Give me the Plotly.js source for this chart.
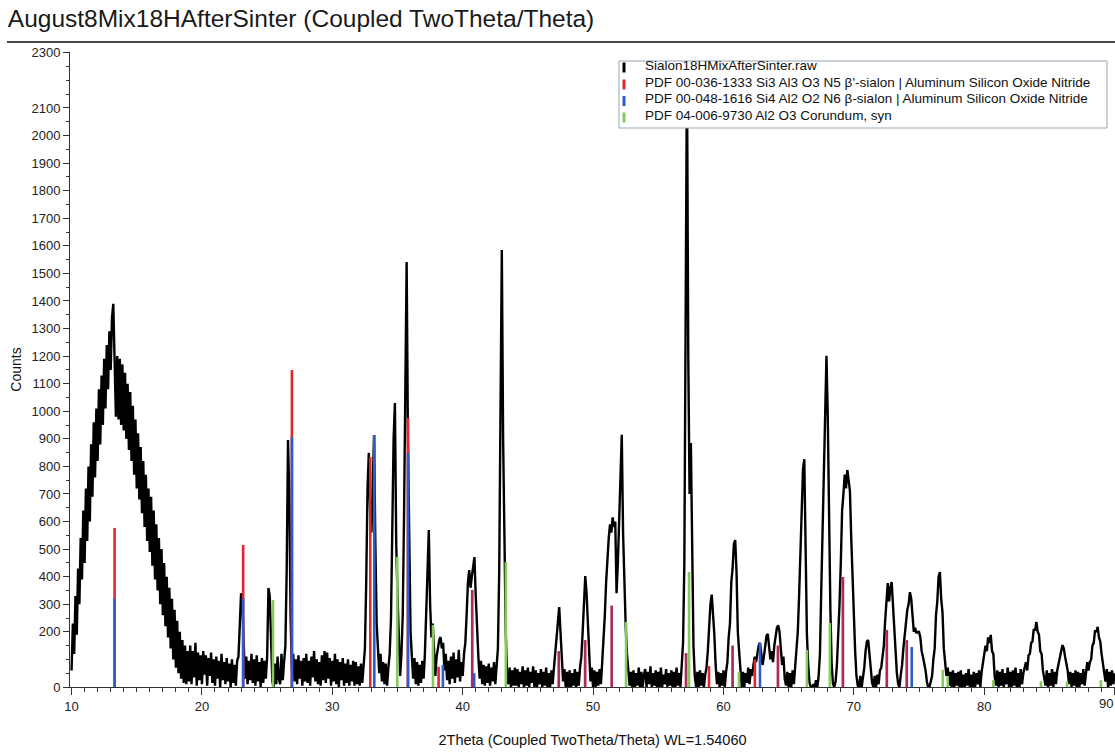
<!DOCTYPE html>
<html>
<head>
<meta charset="utf-8">
<script src="https://cdn.plot.ly/plotly-3.0.1.min.js"></script>
<style>
  html, body { margin: 0; padding: 0; background: #ffffff; }
  #chart { width: 1115px; height: 755px; }
</style>
</head>
<body>
<div id="chart"></div>
<script>
// ---------------- DATA ----------------
const chartTitle = 'August8Mix18HAfterSinter (Coupled TwoTheta/Theta)';
const xTitle = '2Theta (Coupled TwoTheta/Theta) WL=1.54060';
const yTitle = 'Counts';

const seriesNames = [
  'Sialon18HMixAfterSinter.raw',
  "PDF 00-036-1333 Si3 Al3 O3 N5 β'-sialon | Aluminum Silicon Oxide Nitride",
  'PDF 00-048-1616 Si4 Al2 O2 N6 β-sialon | Aluminum Silicon Oxide Nitride',
  'PDF 04-006-9730 Al2 O3 Corundum, syn'
];

// measured scan: 2theta from scanStart in steps of scanStep
const scanStart = 10.0;
const scanStep = 0.1;
const counts = [
  60,230,120,330,190,430,300,540,390,640,       // 10
  450,720,530,800,600,880,690,960,760,1010,     // 11
  820,1080,880,1130,950,1190,1010,1240,1080,1290, // 12
  1150,1340,1390,1120,980,1200,970,1190,950,1170, // 13
  930,1140,900,1100,860,1070,820,1020,770,970,  // 14
  720,920,680,870,630,820,580,770,530,720,      // 15
  490,690,440,640,390,590,350,540,300,500,      // 16
  260,450,220,400,180,360,140,320,100,280,      // 17
  70,240,50,200,30,170,15,150,10,130,           // 18
  20,150,10,130,35,160,5,125,25,115,            // 19
  10,130,45,115,5,105,40,125,15,100,            // 20
  5,110,30,95,0,120,25,90,10,105,               // 21
  20,85,0,100,15,80,5,95,110,220,               // 22
  340,300,150,30,110,10,95,25,120,15,           // 23
  100,5,115,20,90,0,105,15,95,30,               // 24
  110,359,330,160,20,0,85,10,110,30,            // 25
  10,120,25,90,150,420,896,700,250,60,          // 26
  120,20,100,10,115,30,95,5,105,20,             // 27
  120,15,95,5,110,35,130,20,100,10,             // 28
  90,5,115,25,130,15,125,30,105,5,              // 29
  95,20,120,10,100,0,90,25,105,5,               // 30
  85,15,100,5,80,20,95,5,90,10,                 // 31
  75,5,85,15,90,140,380,720,849,640,            // 32
  560,800,914,520,230,140,50,120,20,90,         // 33
  10,85,5,70,120,250,560,900,1030,520,          // 34
  330,130,40,120,260,620,1150,1541,900,420,     // 35
  200,110,30,105,10,90,5,80,15,95,              // 36
  30,120,260,480,569,300,180,230,110,40,        // 37
  110,150,170,181,140,160,60,120,25,95,         // 38
  10,110,30,125,15,100,35,135,20,90,            // 39
  40,120,160,260,380,424,360,400,440,471,       // 40
  330,200,110,30,95,10,80,5,75,15,              // 41
  85,5,70,20,90,10,75,140,420,1050,             // 42
  1585,900,430,200,50,10,70,0,60,5,             // 43
  70,5,65,0,55,10,75,0,60,5,                    // 44
  70,0,55,15,75,0,60,0,50,10,                   // 45
  65,0,55,5,70,0,50,0,60,10,                    // 46
  70,130,180,240,290,200,110,20,65,0,           // 47
  55,0,60,0,50,5,65,0,55,5,                     // 48
  70,110,200,330,402,340,210,110,20,70,         // 49
  0,60,0,55,5,65,10,90,160,260,                 // 50
  380,470,540,590,560,615,580,600,340,450,      // 51
  620,800,915,560,330,220,120,40,5,55,          // 52
  0,60,0,50,5,70,0,55,0,45,                     // 53
  65,0,55,10,75,0,50,5,60,0,                    // 54
  55,0,70,0,45,10,65,0,50,5,                    // 55
  60,0,55,0,70,5,50,0,75,160,                   // 56
  450,1500,2260,1200,700,885,420,150,40,0,      // 57
  55,0,60,5,50,0,45,70,130,220,                 // 58
  300,335,270,190,80,10,55,0,50,5,              // 59
  60,0,55,90,180,230,380,430,520,533,           // 60
  420,200,130,40,0,55,0,50,15,70,               // 61
  10,65,40,80,110,90,130,150,160,120,           // 62
  80,110,150,185,193,140,100,130,90,150,        // 63
  190,215,224,200,140,80,110,30,5,55,           // 64
  0,50,0,60,10,70,120,200,330,500,              // 65
  690,790,826,520,190,80,15,0,0,10,             // 66
  0,25,0,40,120,350,560,780,1000,1201,          // 67
  980,600,280,80,10,0,20,80,180,300,            // 68
  450,640,700,770,720,787,750,710,540,390,      // 69
  240,130,40,5,0,40,0,30,70,130,                // 70
  165,170,120,60,15,0,40,0,45,10,               // 71
  60,70,110,150,240,310,377,310,360,381,        // 72
  300,200,120,50,10,0,45,80,140,190,            // 73
  221,280,300,344,320,270,200,215,195,200,      // 74
  200,180,130,110,88,60,20,0,0,20,              // 75
  40,100,140,260,310,400,417,320,270,140,       // 76
  80,40,70,5,55,0,60,0,50,5,                    // 77
  55,0,60,0,45,0,50,5,65,0,                     // 78
  45,0,55,0,50,10,60,0,55,90,                   // 79
  110,150,130,180,160,189,130,120,40,5,         // 80
  60,0,55,5,65,0,50,10,70,0,                    // 81
  55,0,60,5,70,0,50,0,65,10,                    // 82
  50,75,90,60,115,120,160,165,210,205,          // 83
  236,200,190,130,120,60,30,5,60,0,             // 84
  50,5,65,0,55,10,60,80,110,130,                // 85
  152,140,110,80,60,10,55,0,50,5,               // 86
  60,0,55,0,50,10,65,5,55,90,                   // 87
  60,90,100,150,160,205,200,218,180,165,        // 88
  120,90,60,20,65,0,55,5,60,10,                 // 89
  50                                            // 90
];

// reference patterns (stick positions in 2theta, stick heights in counts)
const redPos   = [13.3, 23.16, 26.9, 32.91, 35.8, 38.15, 40.73, 47.37, 49.39, 51.43, 57.13, 58.89, 60.7, 62.41, 64.18, 69.16, 72.53, 74.06];
const redInt   = [577, 515, 1150, 834, 976, 73, 352, 130, 170, 295, 123, 76, 150, 100, 150, 399, 207, 170];
const bluePos  = [13.3, 23.16, 26.9, 33.22, 35.8, 38.48, 40.73, 40.88, 47.37, 49.39, 51.43, 57.13, 60.7, 62.8, 64.18, 69.16, 72.53, 74.06, 74.44];
const blueInt  = [322, 322, 907, 914, 849, 80, 352, 50, 130, 170, 295, 123, 150, 160, 150, 399, 207, 170, 145];
const greenPos = [25.45, 34.98, 37.72, 43.31, 52.53, 57.36, 61.19, 66.4, 68.16, 76.82, 77.2, 80.7, 84.35, 86.35, 88.95];
const greenInt = [316, 472, 225, 453, 236, 417, 55, 134, 232, 62, 40, 25, 20, 20, 25];

const xTicks = [10, 20, 30, 40, 50, 60, 70, 80, 90];
const yTicks = [0, 200, 300, 400, 500, 600, 700, 800, 900, 1000, 1100, 1200, 1300, 1400, 1500, 1600, 1700, 1800, 1900, 2000, 2100, 2300];

// ---------------- BUILD ----------------
const FONT = '"Liberation Sans", Arial, Helvetica, sans-serif';
const COLORS = ['#000000', '#e2262f', '#2d5ccc', '#86ca5c'];

const W = 1115, H = 755;
const M = { l: 70, r: 0, t: 52, b: 68 };
const pw = W - M.l - M.r, ph = H - M.t - M.b;
const px2paperX = px => (px - M.l) / pw;
const py2paperY = py => (H - M.b - py) / ph;
const X_RANGE = [9.88, 90.03];

const scanX = counts.map((_, i) => +(scanStart + i * scanStep).toFixed(2));

function sticks(pos, ints, keep) {
  const x = [], y = [];
  pos.forEach((p, i) => {
    if (keep && !keep(i)) return;
    x.push(p, p, null);
    y.push(0, ints[i], null);
  });
  return { x, y };
}
// blue sticks that coincide with an identical red stick are drawn translucent (they blend to magenta)
const coincides = i => redPos.some((r, j) => Math.abs(r - bluePos[i]) < 0.02 && Math.abs(redInt[j] - blueInt[i]) < 1);

const sRed = sticks(redPos, redInt);
const sBlueSolid = sticks(bluePos, blueInt, i => !coincides(i));
const sBlueBlend = sticks(bluePos, blueInt, i => coincides(i));
const sGreen = sticks(greenPos, greenInt);

const STICK_W = 2.6;
const traces = [
  { type: 'scatter', mode: 'lines', name: seriesNames[0], x: scanX, y: counts, line: { color: COLORS[0], width: 2.4 }, showlegend: false, hoverinfo: 'skip' },
  { type: 'scatter', mode: 'lines', name: seriesNames[1], x: sRed.x, y: sRed.y, line: { color: COLORS[1], width: STICK_W }, showlegend: false, hoverinfo: 'skip' },
  { type: 'scatter', mode: 'lines', name: seriesNames[2], x: sBlueSolid.x, y: sBlueSolid.y, line: { color: COLORS[2], width: STICK_W }, showlegend: false, hoverinfo: 'skip' },
  { type: 'scatter', mode: 'lines', name: seriesNames[2], x: sBlueBlend.x, y: sBlueBlend.y, line: { color: 'rgba(45,60,200,0.32)', width: STICK_W }, showlegend: false, hoverinfo: 'skip' },
  { type: 'scatter', mode: 'lines', name: seriesNames[3], x: sGreen.x, y: sGreen.y, line: { color: COLORS[3], width: STICK_W }, showlegend: false, hoverinfo: 'skip' }
];

// legend drawn as a boxed key (opaque, sits above the plot like the reference)
const LEG = { left: 619, right: 1107, top: 61, bottom: 128, rows: [65.5, 82.5, 99, 115.5], markX: 624, textX: 643 };
const shapes = [
  { type: 'line', xref: 'paper', yref: 'paper', x0: px2paperX(7), x1: 1.0, y0: py2paperY(42), y1: py2paperY(42),
    line: { color: '#4a4a4a', width: 2 } },
  { type: 'rect', xref: 'paper', yref: 'paper', layer: 'above',
    x0: px2paperX(LEG.left), x1: px2paperX(LEG.right), y0: py2paperY(LEG.bottom), y1: py2paperY(LEG.top),
    fillcolor: '#ffffff', line: { color: '#9aa6b8', width: 1 } }
];
const annotations = [];
seriesNames.forEach((name, k) => {
  const cy = LEG.rows[k];
  shapes.push({ type: 'line', xref: 'paper', yref: 'paper', layer: 'above',
    x0: px2paperX(LEG.markX), x1: px2paperX(LEG.markX), y0: py2paperY(cy + 7), y1: py2paperY(cy - 3),
    line: { color: COLORS[k], width: 3 } });
  annotations.push({ xref: 'paper', yref: 'paper', x: px2paperX(LEG.textX), y: py2paperY(cy),
    xanchor: 'left', yanchor: 'middle', showarrow: false, text: name,
    font: { family: FONT, size: 13.5, color: '#111111' } });
});

// tick labels: the last one sits on the right edge, so it is placed right-aligned inside the page
const lastTick = xTicks[xTicks.length - 1];
const xTickText = xTicks.map(v => (v === lastTick ? '' : String(v)));
annotations.push({ xref: 'paper', yref: 'paper', x: 1.0, y: py2paperY(703), xanchor: 'right', yanchor: 'middle',
  showarrow: false, text: String(lastTick), font: { family: FONT, size: 13, color: '#222' } });

const layout = {
  width: W, height: H,
  margin: { l: M.l, r: M.r, t: M.t, b: M.b, pad: 0 },
  paper_bgcolor: '#ffffff', plot_bgcolor: '#ffffff',
  font: { family: FONT, size: 13, color: '#222222' },
  title: {
    text: chartTitle, xref: 'container', x: 0.007, xanchor: 'left',
    yref: 'container', y: 0.976, yanchor: 'middle',
    font: { family: FONT, size: 24.5, color: '#1a1a1a' }
  },
  xaxis: {
    range: X_RANGE, tickvals: xTicks, ticktext: xTickText,
    ticks: 'outside', ticklen: 7, tickwidth: 1, tickcolor: '#333',
    minor: { dtick: 1, tick0: 0, ticks: 'outside', ticklen: 4, tickwidth: 1, tickcolor: '#333', showgrid: false },
    showline: true, linecolor: '#333', linewidth: 1,
    showgrid: false, zeroline: false, automargin: false,
    tickfont: { family: FONT, size: 13, color: '#222' },
    title: { text: xTitle, font: { family: FONT, size: 14.5, color: '#111' }, standoff: 22 }
  },
  yaxis: {
    range: [0, 2303], tickvals: yTicks, ticktext: yTicks.map(String),
    ticks: 'outside', ticklen: 6, tickwidth: 1, tickcolor: '#333',
    minor: { dtick: 50, tick0: 0, ticks: 'outside', ticklen: 3, tickwidth: 1, tickcolor: '#333', showgrid: false },
    showline: true, linecolor: '#333', linewidth: 1,
    showgrid: false, zeroline: false, automargin: false,
    tickfont: { family: FONT, size: 13, color: '#222' },
    title: { text: yTitle, font: { family: FONT, size: 14, color: '#111' }, standoff: 6 }
  },
  shapes: shapes,
  annotations: annotations,
  showlegend: false
};

Plotly.newPlot('chart', traces, layout, { displayModeBar: false, responsive: false });
</script>
</body>
</html>
